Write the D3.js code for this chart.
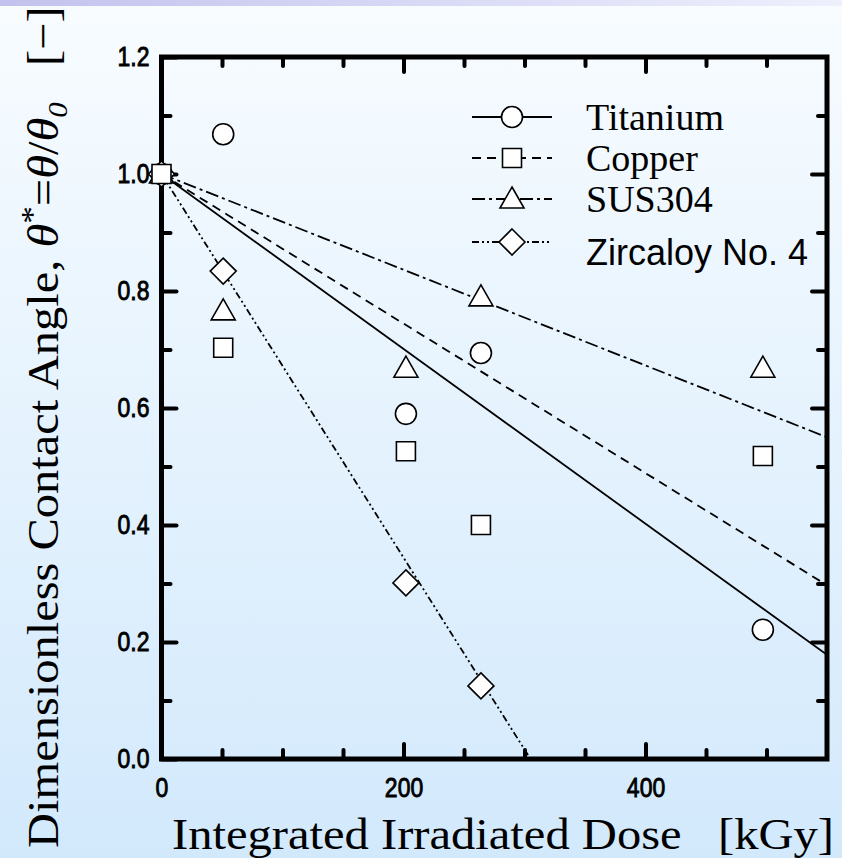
<!DOCTYPE html>
<html>
<head>
<meta charset="utf-8">
<script src="https://cdn.jsdelivr.net/npm/d3@7"></script>
<style>
  body { margin: 0; }
  svg { display: block; }
</style>
</head>
<body>
<div class="chart"></div>
<script>
const WIDTH = 842
const HEIGHT = 858

// data
const dose = [0, 51, 202, 264, 497]
const titanium = [1.0, 1.068, 0.59, 0.694, 0.221]
const copper = [1.0, 0.703, 0.526, 0.40, 0.518]
const sus304 = [1.0, 0.766, 0.668, 0.79, 0.668]
const zircaloy = [1.0, 0.834, 0.301, 0.125]

const names = ["Titanium", "Copper", "SUS304", "Zircaloy No. 4"]
const values = [titanium, copper, sus304, zircaloy]
const shapes = ["circle", "square", "triangle", "diamond"]
const dashes = ["none", "9,6", "13,4,3,4", "7,3,2,3,2,3"]

// fitted lines, start and end points [dose, value]
const fitStart = [[0, 1.0], [0, 1.0], [0, 1.0], [0, 1.0]]
const fitEnd = [[550, 0.178], [550, 0.297], [550, 0.55], [305, 0.0]]

const xTicksMajor = [0, 200, 400]
const xTicksMinor = [50, 100, 150, 250, 300, 350, 450, 500]
const yTicksMajor = [0.0, 0.2, 0.4, 0.6, 0.8, 1.0, 1.2]
const yTicksMinor = [0.1, 0.3, 0.5, 0.7, 0.9, 1.1]

const svg = d3.select("div.chart")
            .append("svg")
            .attr("width", WIDTH)
            .attr("height", HEIGHT);

const defs = svg.append("defs");
const bg = defs.append("linearGradient").attr("id", "bg")
            .attr("x1", 0).attr("y1", 0).attr("x2", 0).attr("y2", 1);
bg.append("stop").attr("offset", 0).attr("stop-color", "#f8fcff");
bg.append("stop").attr("offset", 1).attr("stop-color", "#d2e9fc");
const band = defs.append("linearGradient").attr("id", "band")
            .attr("x1", 0).attr("y1", 0).attr("x2", 1).attr("y2", 0);
band.append("stop").attr("offset", 0).attr("stop-color", "#c2c2ee");
band.append("stop").attr("offset", 1).attr("stop-color", "#eef0fc");

svg.append("rect").attr("width", WIDTH).attr("height", HEIGHT).attr("fill", "url(#bg)");
svg.append("rect").attr("width", WIDTH).attr("height", 6).attr("fill", "url(#band)");

const x = d3.scaleLinear().domain([0, 550]).range([161.5, 827]);
const y = d3.scaleLinear().domain([0, 1.2]).range([759, 57]);

defs.append("clipPath").attr("id", "plot")
    .append("rect")
    .attr("x", x(0)).attr("y", y(1.2))
    .attr("width", x(550) - x(0)).attr("height", y(0) - y(1.2));

// axes, ticks pointing inward
const fontTick = "'Liberation Sans', Arial, sans-serif";
const serif = "'Liberation Serif', 'DejaVu Serif', serif";
function styleAxis(g) {
  g.select(".domain").remove();
  g.selectAll(".tick line").attr("stroke", "#000").attr("stroke-width", 4)
   .attr("stroke-linecap", "round");
  g.selectAll(".tick text").attr("fill", "#000")
   .attr("stroke", "#000").attr("stroke-width", 0.9)
   .style("font-family", fontTick).style("font-size", "28px")
   .each(function() {
     // tall narrow digits as in the picture
     const w = this.getComputedTextLength();
     if (w > 0) d3.select(this).attr("textLength", w * 0.82).attr("lengthAdjust", "spacingAndGlyphs");
   });
}

svg.append("g").attr("transform", `translate(0,${y(0)})`)
   .call(d3.axisBottom(x).tickValues(xTicksMajor).tickSize(-15).tickPadding(18).tickFormat(d3.format("d")))
   .call(styleAxis);
svg.append("g").attr("transform", `translate(0,${y(0)})`)
   .call(d3.axisBottom(x).tickValues(xTicksMinor).tickSize(-9).tickFormat(""))
   .call(styleAxis);
svg.append("g").attr("transform", `translate(0,${y(1.2)})`)
   .call(d3.axisTop(x).tickValues(xTicksMajor.slice(1)).tickSize(-15).tickFormat(""))
   .call(styleAxis);
svg.append("g").attr("transform", `translate(0,${y(1.2)})`)
   .call(d3.axisTop(x).tickValues(xTicksMinor).tickSize(-9).tickFormat(""))
   .call(styleAxis);

svg.append("g").attr("transform", `translate(${x(0)},0)`)
   .call(d3.axisLeft(y).tickValues(yTicksMajor).tickSize(-15).tickPadding(12).tickFormat(d3.format(".1f")))
   .call(styleAxis);
svg.append("g").attr("transform", `translate(${x(0)},0)`)
   .call(d3.axisLeft(y).tickValues(yTicksMinor).tickSize(-9).tickFormat(""))
   .call(styleAxis);
svg.append("g").attr("transform", `translate(${x(550)},0)`)
   .call(d3.axisRight(y).tickValues(yTicksMajor.slice(1, -1)).tickSize(-15).tickFormat(""))
   .call(styleAxis);
svg.append("g").attr("transform", `translate(${x(550)},0)`)
   .call(d3.axisRight(y).tickValues(yTicksMinor).tickSize(-9).tickFormat(""))
   .call(styleAxis);

// frame
svg.append("rect")
   .attr("x", x(0)).attr("y", y(1.2))
   .attr("width", x(550) - x(0)).attr("height", y(0) - y(1.2))
   .attr("fill", "none").attr("stroke", "#000").attr("stroke-width", 5);

// fitted lines
const fits = svg.append("g").attr("clip-path", "url(#plot)");
names.forEach((n, i) => {
  fits.append("line")
      .attr("x1", x(fitStart[i][0])).attr("y1", y(fitStart[i][1]))
      .attr("x2", x(fitEnd[i][0])).attr("y2", y(fitEnd[i][1]))
      .attr("stroke", "#000").attr("stroke-width", 1.8)
      .attr("stroke-dasharray", dashes[i]);
});

// marker paths
function marker(shape) {
  if (shape === "circle") return "M10.5,0A10.5,10.5 0 1,1 -10.5,0A10.5,10.5 0 1,1 10.5,0Z";
  if (shape === "square") return "M-9.5,-9.5H9.5V9.5H-9.5Z";
  if (shape === "triangle") return "M0,-12L12,9H-12Z";
  return "M0,-13L13,0L0,13L-13,0Z";
}

const drawOrder = [0, 2, 3, 1];
drawOrder.forEach(i => {
  svg.append("g").selectAll("path")
     .data(values[i])
     .enter()
     .append("path")
     .attr("d", marker(shapes[i]))
     .attr("transform", (d, j) => `translate(${x(dose[j])},${y(d)})`)
     .attr("fill", "#fff").attr("stroke", "#000").attr("stroke-width", 1.6);
});

// legend
const legendY = [117, 158, 199, 242];
const legendTextY = [117, 158, 199, 252];
const leg = svg.append("g");
names.forEach((n, i) => {
  leg.append("line")
     .attr("x1", 472).attr("x2", 552)
     .attr("y1", legendY[i]).attr("y2", legendY[i])
     .attr("stroke", "#000").attr("stroke-width", 1.8)
     .attr("stroke-dasharray", dashes[i]);
  leg.append("path")
     .attr("d", marker(shapes[i]))
     .attr("transform", `translate(512,${legendY[i]})`)
     .attr("fill", "#fff").attr("stroke", "#000").attr("stroke-width", 1.6);
  leg.append("text")
     .attr("x", 586).attr("y", legendTextY[i])
     .attr("dy", "0.35em")
     .style("font-family", i === 3 ? fontTick : serif)
     .style("font-size", i === 3 ? "36px" : "38px")
     .text(n);
});

// axis titles
const xt = svg.append("text")
   .attr("x", 172).attr("y", 849)
   .style("font-family", serif).style("font-size", "44px")
   .text("Integrated Irradiated Dose\u00a0\u00a0\u00a0[kGy]");
xt.attr("textLength", 662).attr("lengthAdjust", "spacingAndGlyphs");

const yt = svg.append("text")
   .attr("transform", "translate(58,848) rotate(-90)")
   .style("font-family", serif).style("font-size", "44px");
yt.append("tspan").text("Dimensionless Contact Angle, ");
yt.append("tspan").style("font-style", "italic").text("\u03b8");
yt.append("tspan").attr("dy", -15).style("font-size", "32px").text("*");
yt.append("tspan").attr("dy", 15).text("=");
yt.append("tspan").style("font-style", "italic").text("\u03b8");
yt.append("tspan").text("/");
yt.append("tspan").style("font-style", "italic").text("\u03b8");
yt.append("tspan").attr("dy", 9).style("font-size", "28px").style("font-style", "italic").text("0");
yt.append("tspan").attr("dy", -9).text("\u00a0\u00a0\u00a0[\u2212]");
// squeeze the title to the height it takes in the picture
const len = yt.node().getComputedTextLength();
yt.attr("transform", `translate(58,848) rotate(-90) scale(${842 / len},1)`);
</script>
</body>
</html>
